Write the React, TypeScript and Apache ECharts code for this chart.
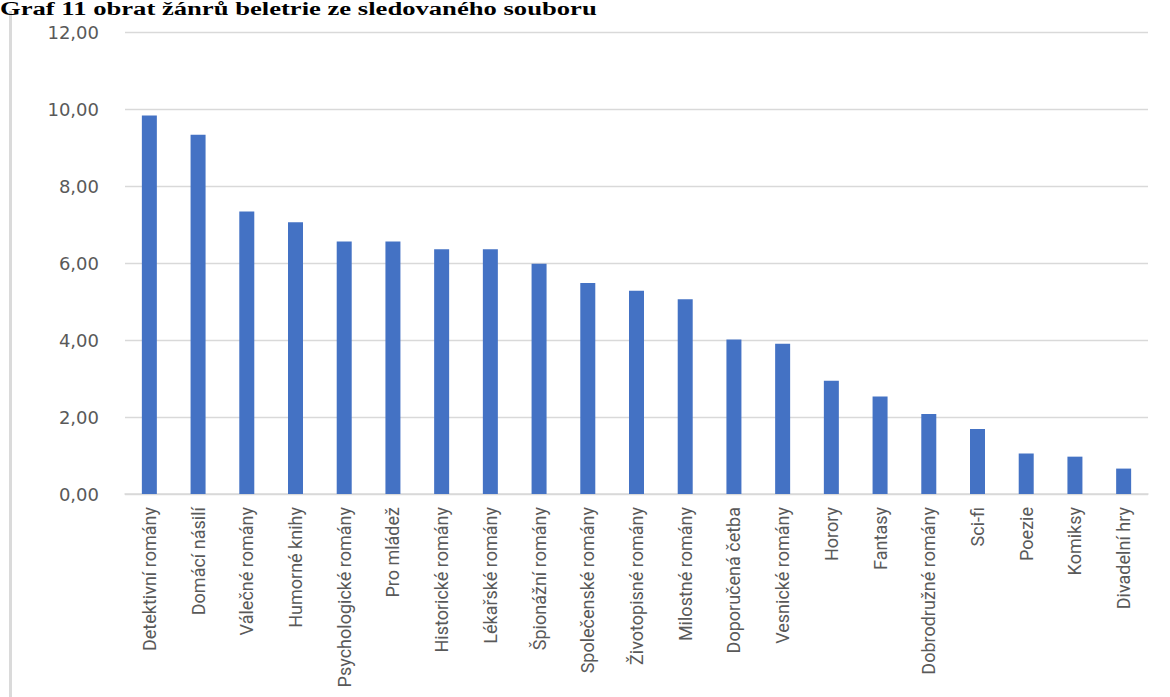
import React, { useEffect, useRef } from "react";
import * as echarts from "echarts";

const titleText = "Graf 11 obrat žánrů beletrie ze sledovaného souboru";

const categories = [
  "Detektivní romány",
  "Domácí násilí",
  "Válečné romány",
  "Humorné knihy",
  "Psychologické romány",
  "Pro mládež",
  "Historické romány",
  "Lékařské romány",
  "Špionážní romány",
  "Společenské romány",
  "Životopisné romány",
  "Milostné romány",
  "Doporučená četba",
  "Vesnické romány",
  "Horory",
  "Fantasy",
  "Dobrodružné romány",
  "Sci-fi",
  "Poezie",
  "Komiksy",
  "Divadelní hry",
];

const values = [
  9.83, 9.33, 7.34, 7.06, 6.56, 6.56, 6.36, 6.36, 5.98, 5.48, 5.28, 5.06, 4.01,
  3.9, 2.94, 2.53, 2.08, 1.69, 1.05, 0.97, 0.66,
];

const yMin = 0;
const yMax = 12;
const yStep = 2;

export default function App() {
  const ref = useRef<HTMLDivElement>(null);

  useEffect(() => {
    if (!ref.current) return;
    const chart = echarts.init(ref.current, undefined, { renderer: "svg" });
    chart.setOption({
      animation: false,
      backgroundColor: "#ffffff",
      grid: { left: 125, right: 22, top: 32, bottom: 203, containLabel: false },
      graphic: [
        {
          type: "line",
          shape: { x1: 10.5, y1: 11, x2: 10.5, y2: 697 },
          style: { stroke: "#dadada", lineWidth: 3 },
          silent: true,
        },
        {
          type: "text",
          x: 0,
          y: 0,
          scaleX: 1.48,
          scaleY: 1,
          style: {
            text: titleText,
            font: "bold 18px 'Liberation Serif', 'Times New Roman', serif",
            fill: "#000000",
            verticalAlign: "top",
            align: "left",
          },
          silent: true,
        },
      ],
      xAxis: {
        type: "category",
        data: categories,
        boundaryGap: true,
        axisLine: { show: true, lineStyle: { color: "#d9d9d9", width: 1.5 } },
        axisTick: { show: false },
        axisLabel: {
          rotate: 90,
          interval: 0,
          margin: 13,
          color: "#595959",
          fontSize: 18,
          fontFamily: "Roboto, sans-serif",
        },
      },
      yAxis: {
        type: "value",
        min: yMin,
        max: yMax,
        interval: yStep,
        axisLine: { show: false },
        axisTick: { show: false },
        splitLine: { lineStyle: { color: "#d9d9d9", width: 1.3 } },
        axisLabel: {
          margin: 26,
          color: "#595959",
          fontSize: 18,
          fontFamily: "'DejaVu Sans', sans-serif",
          formatter: (v: number) => v.toFixed(2).replace(".", ","),
        },
      },
      series: [
        {
          type: "bar",
          data: values,
          barWidth: 15,
          itemStyle: { color: "#4472C4" },
        },
      ],
    });
    return () => chart.dispose();
  }, []);

  return (
    <div
      ref={ref}
      style={{ position: "absolute", left: 0, top: 0, width: 1170, height: 697 }}
    />
  );
}
